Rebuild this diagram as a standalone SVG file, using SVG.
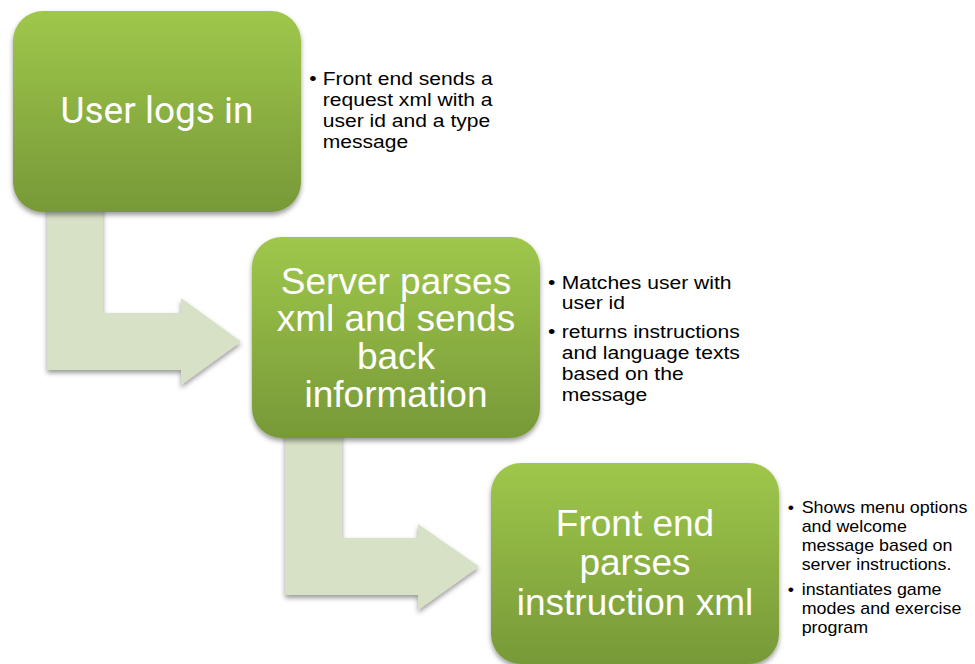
<svg xmlns="http://www.w3.org/2000/svg" width="975" height="664" viewBox="0 0 975 664">
  <defs>
    <linearGradient id="stepFill" x1="0" y1="0" x2="0" y2="1">
      <stop offset="0" stop-color="#9fc74b"/>
      <stop offset="1" stop-color="#779938"/>
    </linearGradient>
    <filter id="softShadow" x="-10%" y="-10%" width="120%" height="125%">
      <feDropShadow dx="0" dy="3" stdDeviation="2.5" flood-color="#000" flood-opacity="0.4"/>
    </filter>
    <style>
      .step { fill: url(#stepFill); filter: url(#softShadow); }
      .bend { fill: #d7e1c5; filter: url(#softShadow); }
      .title { font-family: "Liberation Sans", Arial, sans-serif; font-size: 37px; fill: #ffffff; text-anchor: middle; }
      .title.first { font-family: Roboto, "Liberation Sans", sans-serif; }
      .note { font-family: "Liberation Sans", Arial, sans-serif; fill: #000000; }
      .note .dot { text-anchor: middle; }
    </style>
  </defs>

  <!-- bent arrows between the steps -->
  <g id="connectors">
    <path class="bend" d="M47,195 H103 V313 H181 V298 L241,341.5 L181,385 V370 H47 Z"/>
    <path class="bend" d="M285,420 H342 V538 H418 V524 L479,566.5 L418,610 V595 H285 Z"/>
  </g>

  <!-- step 1 -->
  <g id="step-login">
    <rect class="step" x="13" y="11" width="288" height="201" rx="30" ry="30"/>
    <text class="title first" x="157" y="123">User logs in</text>
  </g>
  <g id="note-login" class="note" font-size="18.5" transform="matrix(1.14 0 0 1 322.7 0)">
    <text class="dot" x="-8.5" y="85">•</text>
    <text x="0" y="85">Front end sends a</text>
    <text x="0" y="106">request xml with a</text>
    <text x="0" y="127">user id and a type</text>
    <text x="0" y="148">message</text>
  </g>

  <!-- step 2 -->
  <g id="step-server">
    <rect class="step" x="252" y="237" width="288" height="201" rx="30" ry="30"/>
    <text class="title" x="396" y="293.5">Server parses</text>
    <text class="title" x="396" y="331">xml and sends</text>
    <text class="title" x="396" y="368.5">back</text>
    <text class="title" x="396" y="407">information</text>
  </g>
  <g id="note-server" class="note" font-size="18.5" transform="matrix(1.14 0 0 1 561.7 0)">
    <text class="dot" x="-8.8" y="289">•</text>
    <text x="0" y="289">Matches user with</text>
    <text x="0" y="309.5">user id</text>
    <text class="dot" x="-8.8" y="338.5">•</text>
    <text x="0" y="338.5">returns instructions</text>
    <text x="0" y="359.5">and language texts</text>
    <text x="0" y="380.5">based on the</text>
    <text x="0" y="401.5">message</text>
  </g>

  <!-- step 3 -->
  <g id="step-frontend">
    <rect class="step" x="491" y="463" width="288" height="201" rx="30" ry="30"/>
    <text class="title" x="635" y="536">Front end</text>
    <text class="title" x="635" y="575">parses</text>
    <text class="title" x="635" y="614.5">instruction xml</text>
  </g>
  <g id="note-frontend" class="note" font-size="17" transform="matrix(1.05 0 0 1 801.7 0)">
    <text class="dot" x="-10.2" y="513">•</text>
    <text x="0" y="513">Shows menu options</text>
    <text x="0" y="532">and welcome</text>
    <text x="0" y="551.5">message based on</text>
    <text x="0" y="570.5">server instructions.</text>
    <text class="dot" x="-10.2" y="595">•</text>
    <text x="0" y="595">instantiates game</text>
    <text x="0" y="614">modes and exercise</text>
    <text x="0" y="633">program</text>
  </g>
</svg>
